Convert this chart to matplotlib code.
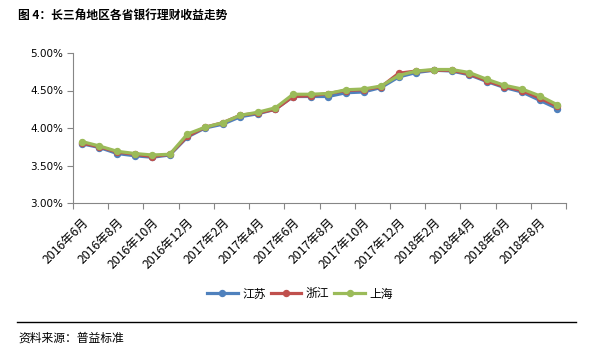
import matplotlib
matplotlib.use("Agg")
import matplotlib.pyplot as plt
from matplotlib.lines import Line2D
from matplotlib.ticker import FuncFormatter, FixedLocator

plt.rcParams['font.family'] = ['Noto Sans CJK SC', 'DejaVu Sans']

# 数据（%）
months = ["2016年6月", "2016年7月", "2016年8月", "2016年9月", "2016年10月", "2016年11月",
          "2016年12月", "2017年1月", "2017年2月", "2017年3月", "2017年4月", "2017年5月",
          "2017年6月", "2017年7月", "2017年8月", "2017年9月", "2017年10月", "2017年11月",
          "2017年12月", "2018年1月", "2018年2月", "2018年3月", "2018年4月", "2018年5月",
          "2018年6月", "2018年7月", "2018年8月", "2018年9月"]
jiangsu = [3.79, 3.74, 3.66, 3.63, 3.61, 3.64, 3.88, 4.00, 4.05, 4.15, 4.19, 4.25, 4.42, 4.42,
           4.42, 4.47, 4.48, 4.54, 4.68, 4.74, 4.77, 4.76, 4.71, 4.62, 4.54, 4.48, 4.37, 4.26]
zhejiang = [3.80, 3.75, 3.68, 3.65, 3.62, 3.65, 3.89, 4.01, 4.07, 4.17, 4.20, 4.25, 4.42, 4.43,
            4.46, 4.50, 4.51, 4.55, 4.73, 4.76, 4.77, 4.77, 4.72, 4.63, 4.55, 4.50, 4.40, 4.29]
shanghai = [3.82, 3.76, 3.69, 3.66, 3.64, 3.65, 3.92, 4.01, 4.07, 4.17, 4.21, 4.27, 4.45, 4.45,
            4.46, 4.51, 4.52, 4.56, 4.70, 4.76, 4.78, 4.78, 4.74, 4.65, 4.57, 4.52, 4.43, 4.31]
series = [("江苏", jiangsu, "#4F81BD"), ("浙江", zhejiang, "#C0504D"), ("上海", shanghai, "#9BBB59")]

W, H = 601, 350
fig = plt.figure(figsize=(W / 100, H / 100), dpi=100)
ax = fig.add_axes([73 / W, 1 - 203 / H, (566 - 73) / W, 150 / H])

x = list(range(len(months)))
for name, vals, col in series:
    ax.plot(x, vals, color=col, lw=2.3, marker='o', ms=4.3, label=name)

ax.set_xlim(-0.5, len(months) - 0.5)
ax.set_ylim(3.0, 5.0)
ax.set_yticks([3.0, 3.5, 4.0, 4.5, 5.0])
ax.yaxis.set_major_formatter(FuncFormatter(lambda v, p: "%.2f%%" % v))
for t in ax.get_yticklabels():
    t.set_family('DejaVu Sans')
ax.tick_params(axis='y', labelsize=7.5, length=4, color='#868686', pad=3)

# 刻度在类别边界，每两个月一个；标签在类别中心
ax.xaxis.set_major_locator(FixedLocator([i - 0.5 for i in range(0, len(months) + 1, 2)]))
ax.xaxis.set_major_formatter(FuncFormatter(lambda v, p: ""))
ax.xaxis.set_minor_locator(FixedLocator(x[::2]))
ax.set_xticklabels(months[::2], minor=True)
ax.tick_params(axis='x', which='major', length=4, color='#868686')
ax.tick_params(axis='x', which='minor', length=0, labelsize=8.8, pad=9)
for t in ax.get_xticklabels(minor=True):
    t.set_rotation(45)
    t.set_ha('right')
    t.set_va('top')
    t.set_rotation_mode('anchor')
    t.set_x(t.get_position()[0])

for s in ['top', 'right']:
    ax.spines[s].set_visible(False)
for s in ['left', 'bottom']:
    ax.spines[s].set_color('#868686')

fig.text(18 / W, 1 - 15 / H, "图 4：长三角地区各省银行理财收益走势", fontsize=8.5,
         fontweight='bold', va='center', ha='left')

h, l = ax.get_legend_handles_labels()
fig.legend(h, l, loc='center', bbox_to_anchor=(300 / W, 1 - 294 / H), ncol=3, frameon=False,
           fontsize=8.5, handlelength=2.6, handletextpad=0.4, columnspacing=0.4)

fig.add_artist(Line2D([17 / W, 576 / W], [1 - 322 / H, 1 - 322 / H], color='black', lw=1))
fig.text(18 / W, 1 - 338 / H, "资料来源：普益标准", fontsize=8.5, va='center', ha='left')

fig.savefig("out.png", dpi=100)
